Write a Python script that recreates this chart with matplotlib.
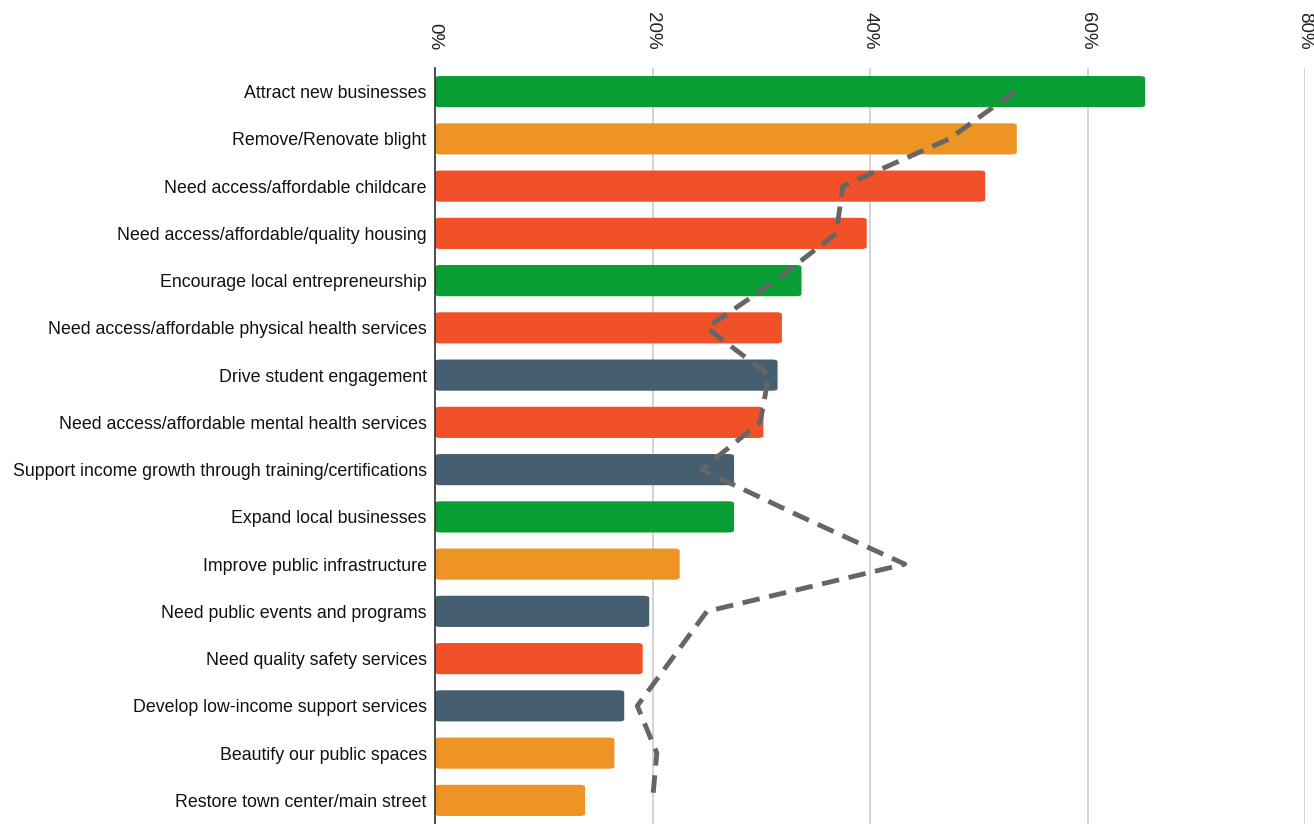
import matplotlib.pyplot as plt
from matplotlib.patches import FancyBboxPatch
from matplotlib.ticker import FuncFormatter

plt.rcParams["font.family"] = ["Liberation Sans", "DejaVu Sans"]

categories = [
    "Attract new businesses",
    "Remove/Renovate blight",
    "Need access/affordable childcare",
    "Need access/affordable/quality housing",
    "Encourage local entrepreneurship",
    "Need access/affordable physical health services",
    "Drive student engagement",
    "Need access/affordable mental health services",
    "Support income growth through training/certifications",
    "Expand local businesses",
    "Improve public infrastructure",
    "Need public events and programs",
    "Need quality safety services",
    "Develop low-income support services",
    "Beautify our public spaces",
    "Restore town center/main street",
]
bar_values = [65.3, 53.5, 50.6, 39.7, 33.7, 31.9, 31.5, 30.2,
              27.5, 27.5, 22.5, 19.7, 19.1, 17.4, 16.5, 13.8]
line_values = [53.3, 47.3, 37.5, 36.9, 31.3, 25.0, 30.7, 29.9,
               24.5, 33.7, 43.2, 25.0, 21.8, 18.6, 20.4, 20.0]
groups = ["green", "orange", "red", "red", "green", "red", "slate", "red",
          "slate", "green", "orange", "slate", "red", "slate", "orange", "orange"]
group_colors = {"green": "#089e33", "orange": "#ee9424",
                "red": "#f05128", "slate": "#465f70"}

fig = plt.figure(figsize=(13.14, 8.24), dpi=100)
ax = fig.add_axes([435 / 1314, 0, (1305 - 435) / 1314, (824 - 68) / 824])

ypos = list(range(len(categories)))
bar_h = 0.66
for y, v, g in zip(ypos, bar_values, groups):
    # small rounding at the bar ends
    ax.add_patch(FancyBboxPatch((0, y - bar_h / 2), v, bar_h,
                                boxstyle="round,pad=0,rounding_size=0.5",
                                mutation_aspect=0.09,
                                facecolor=group_colors[g], edgecolor="none",
                                zorder=2))

ax.plot(line_values, ypos, color="#666666", lw=3.5, dashes=(3.6, 2.0),
        solid_capstyle="butt", zorder=3)

ax.set_xlim(0, 80)
ax.set_ylim(len(categories) - 0.5, -0.5)
ax.set_yticks(ypos)
ax.set_yticklabels(categories, fontsize=12.8, color="#111111")
ax.set_xticks([0, 20, 40, 60, 80])
ax.xaxis.set_major_formatter(FuncFormatter(lambda v, p: f"{v:.0f}%"))
ax.xaxis.tick_top()
ax.tick_params(axis="x", length=0, pad=13, labelsize=13.5, labelcolor="#222222",
               labelrotation=-90)
ax.tick_params(axis="y", length=0, pad=6)
for lbl in ax.get_xticklabels():
    lbl.set_verticalalignment("bottom")

ax.grid(axis="x", color="#cccccc", lw=1.2, zorder=0)
for s in ["top", "right", "bottom"]:
    ax.spines[s].set_visible(False)
ax.spines["left"].set_color("#333333")
ax.spines["left"].set_linewidth(1.2)
ax.spines["left"].set_zorder(4)

fig.savefig("out.png", dpi=100)
